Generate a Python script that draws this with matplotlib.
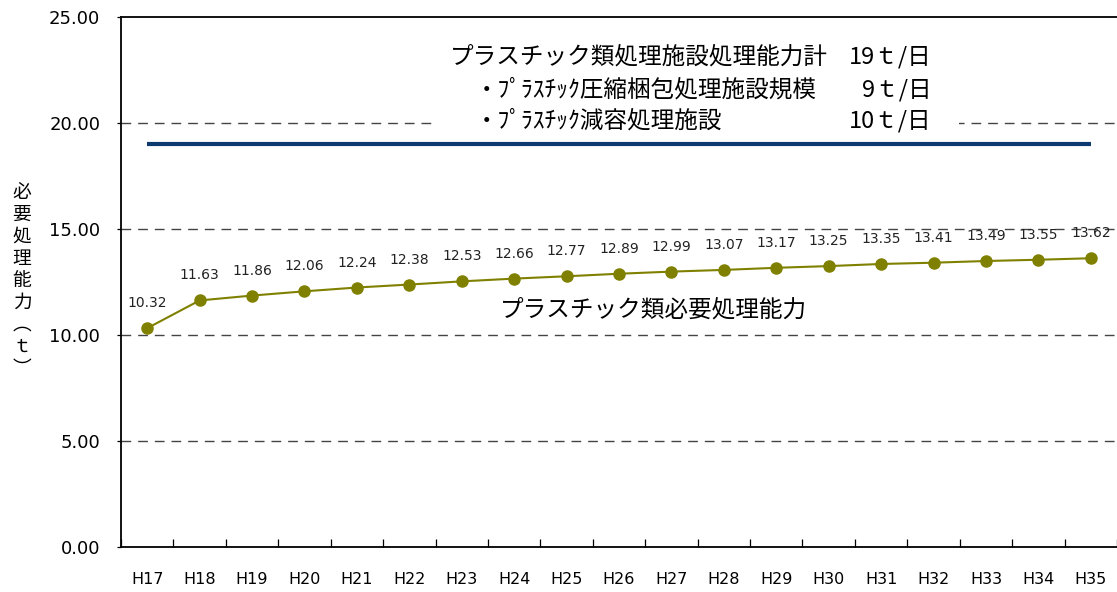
import numpy as np
import matplotlib.pyplot as plt
from matplotlib.patches import Rectangle

plt.rcParams['font.family'] = ['Noto Sans CJK JP', 'DejaVu Sans']

years = ['H17', 'H18', 'H19', 'H20', 'H21', 'H22', 'H23', 'H24', 'H25', 'H26',
         'H27', 'H28', 'H29', 'H30', 'H31', 'H32', 'H33', 'H34', 'H35']
required = [10.32, 11.63, 11.86, 12.06, 12.24, 12.38, 12.53, 12.66, 12.77, 12.89,
            12.99, 13.07, 13.17, 13.25, 13.35, 13.41, 13.49, 13.55, 13.62]
capacity = [19] * len(years)
yticks = [0, 5, 10, 15, 20, 25]

fig = plt.figure(figsize=(11.17, 5.92), dpi=100)
ax = fig.add_axes([0.1083, 0.076, 0.8917, 0.8953])

x = np.arange(len(years))
ax.plot(x, capacity, color='#0d3a6e', lw=3, solid_capstyle='butt', zorder=3)
ax.plot(x, required, color='#808000', lw=1.5, marker='o', ms=8, zorder=3)

# data labels above each point
for xi, v in zip(x, required):
    ax.annotate(f'{v:.2f}', (xi, v), xytext=(0, 18), textcoords='offset points',
                ha='center', va='center', fontsize=10, family='DejaVu Sans',
                color='#222222', zorder=4)

ax.set_xlim(-0.5, len(years) - 0.5)
ax.set_ylim(0, 25)
ax.set_yticks(yticks)
ax.set_yticklabels([f'{v:.2f}' for v in yticks], fontsize=13, family='DejaVu Sans')
for yv in yticks[1:-1]:
    ax.axhline(yv, color='#444444', lw=1, ls=(0, (7, 5)), zorder=1)

ax.set_xticks(x)
ax.set_xticklabels(years, fontsize=11.5, family='DejaVu Sans')
ax.set_xticks(np.arange(len(years) + 1) - 0.5, minor=True)
ax.tick_params(axis='x', which='major', length=0, pad=18)
ax.tick_params(axis='x', which='minor', direction='in', length=6, width=0.9)
ax.tick_params(axis='y', length=3, width=0.9, pad=12)

for s in ['left', 'bottom', 'top']:
    ax.spines[s].set_linewidth(1.3)
ax.spines['right'].set_visible(False)

# vertical y label, one character per line
ylab = ['必', '要', '処', '理', '能', '力', '︵', 'ｔ', '︶']
fig.text(0.0197, 0.527, '\n'.join(ylab), fontsize=13.5, ha='center', va='center',
         linespacing=1.06)

# white backing behind the facility text block
ax.add_patch(Rectangle((0.315, 0.775), 0.526, 0.18, transform=ax.transAxes,
                       facecolor='white', edgecolor='none', zorder=2))

fs = 17
ax.text(0.330, 0.9245, 'プラスチック類処理施設処理能力計', transform=ax.transAxes,
        fontsize=fs, va='center', ha='left', zorder=5)
ax.text(0.814, 0.9245, '19ｔ/日', transform=ax.transAxes,
        fontsize=fs, va='center', ha='right', zorder=5)
ax.text(0.355, 0.862, '・ﾌﾟﾗｽﾁｯｸ圧縮梱包処理施設規模', transform=ax.transAxes,
        fontsize=fs, va='center', ha='left', zorder=5)
ax.text(0.814, 0.862, '9ｔ/日', transform=ax.transAxes,
        fontsize=fs, va='center', ha='right', zorder=5)
ax.text(0.355, 0.8038, '・ﾌﾟﾗｽﾁｯｸ減容処理施設', transform=ax.transAxes,
        fontsize=fs, va='center', ha='left', zorder=5)
ax.text(0.814, 0.8038, '10ｔ/日', transform=ax.transAxes,
        fontsize=fs, va='center', ha='right', zorder=5)

ax.text(0.535, 0.447, 'プラスチック類必要処理能力', transform=ax.transAxes,
        fontsize=fs, va='center', ha='center', zorder=5)

fig.savefig('out.png', dpi=100)
